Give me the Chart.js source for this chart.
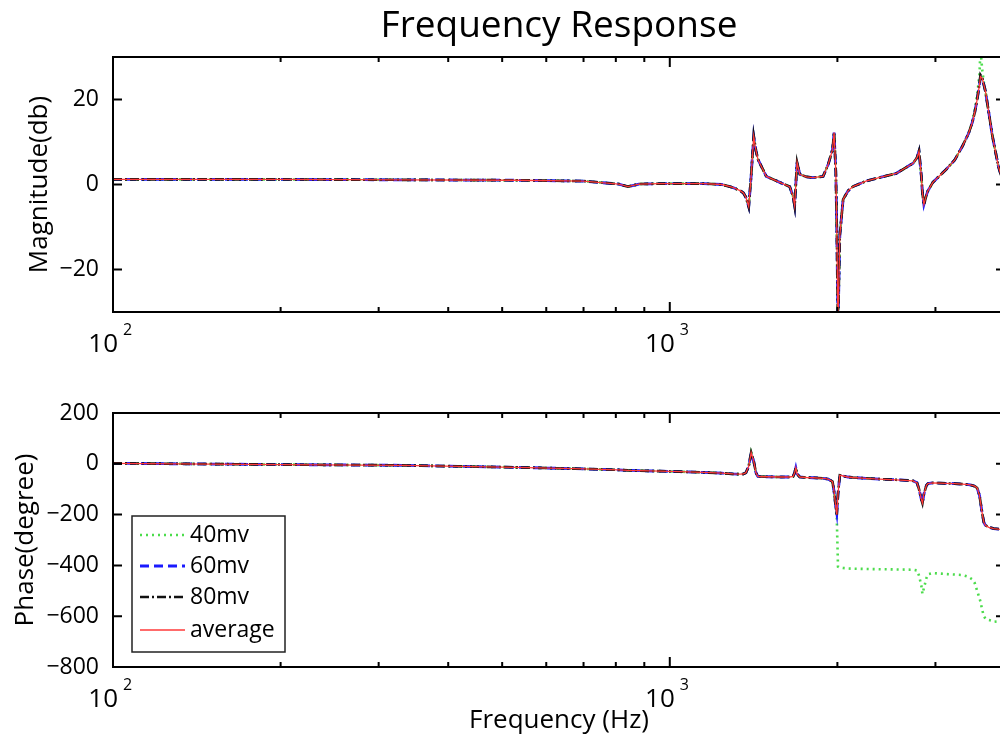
<!DOCTYPE html>
<html>
<head>
<meta charset="utf-8">
<script src="https://cdn.jsdelivr.net/npm/chart.js@4"></script>
<style>
    html, body { margin: 0; padding: 0; background: #fff; overflow: hidden; width: 1000px; height: 742px; }
    #mag-wrap { position: absolute; left: 0; top: 0; width: 1007px; height: 362px; }
    #fase-wrap { position: absolute; left: 0; top: 362px; width: 1007px; height: 380px; }
</style>
</head>
<body>
<div id="mag-wrap"><canvas id="magnitud"></canvas></div>
<div id="fase-wrap"><canvas id="fase"></canvas></div>
<script>
// frecuencias (Hz)
const frecuencias = [100, 150, 200, 330, 530, 700, 810, 841, 880, 960,
    1042, 1150, 1240, 1298, 1340, 1356, 1370, 1386, 1400, 1415,
    1428, 1440, 1491, 1576, 1642, 1665, 1676, 1684, 1693, 1712,
    1760, 1808, 1885, 1925, 1960, 1973, 1987, 1995, 2005, 2020,
    2048, 2090, 2133, 2250, 2377, 2550, 2735, 2780, 2803, 2830,
    2843, 2860, 2890, 2908, 2968, 3050, 3134, 3250, 3354, 3440,
    3494, 3530, 3565, 3600, 3614, 3640, 3665, 3688, 3740, 3790,
    3815, 3893, 3960];

// magnitud (db)
const mag40 = [1.2, 1.2, 1.2, 1.1, 1.0, 0.8, 0.1, -0.5, 0.1, 0.2,
    0.2, 0.2, 0.0, -0.7, -1.5, -2.0, -3.0, -5.2, 2.0, 11.0,
    8.0, 5.9, 1.9, 0.5, -0.5, -2.8, -5.0, 0.0, 5.0, 2.4,
    1.8, 1.6, 1.9, 4.7, 8.2, 12.0, 3.0, -10, -34, -12,
    -3.5, -1.5, -0.5, 0.8, 1.6, 2.6, 5.0, 6.3, 7.6, 2.0,
    -2.0, -4.7, -2.5, -1.5, 0.5, 2.0, 3.5, 5.8, 9.0, 12.0,
    14.6, 17.5, 21.0, 26.0, 32.0, 27.0, 24.0, 22.0, 17.0, 12.0,
    10.0, 4.2, 1.0];
const mag60 = [1.2, 1.2, 1.2, 1.1, 1.0, 0.8, 0.1, -0.5, 0.1, 0.2,
    0.2, 0.2, 0.0, -0.7, -1.5, -2.0, -3.0, -5.2, 2.0, 11.3,
    8.0, 5.9, 1.9, 0.5, -0.5, -2.8, -5.0, 0.0, 5.2, 2.4,
    1.8, 1.6, 1.9, 4.7, 8.2, 12.2, 3.0, -10, -34, -12,
    -3.5, -1.5, -0.5, 0.8, 1.6, 2.6, 5.0, 6.3, 7.8, 2.0,
    -2.0, -4.7, -2.5, -1.5, 0.5, 2.0, 3.5, 5.8, 9.0, 12.0,
    14.6, 17.0, 20.0, 23.5, 25.2, 25.0, 23.5, 22.0, 17.0, 12.0,
    10.0, 4.2, 1.0];
const mag80 = [1.2, 1.2, 1.2, 1.1, 1.0, 0.8, 0.1, -0.5, 0.1, 0.2,
    0.2, 0.2, 0.0, -0.7, -1.5, -2.0, -3.0, -5.3, 2.0, 11.4,
    8.0, 5.9, 1.9, 0.5, -0.5, -2.8, -5.1, 0.0, 5.2, 2.4,
    1.8, 1.6, 1.9, 4.7, 8.2, 12.3, 3.0, -10, -34, -12,
    -3.5, -1.5, -0.5, 0.8, 1.6, 2.6, 5.0, 6.3, 7.9, 2.0,
    -2.0, -4.8, -2.5, -1.5, 0.5, 2.0, 3.5, 5.8, 9.0, 12.0,
    14.6, 17.0, 20.0, 23.8, 25.8, 25.2, 23.5, 22.0, 17.0, 12.0,
    10.0, 4.2, 1.0];
const magProm = [1.2, 1.2, 1.2, 1.1, 1.0, 0.8, 0.1, -0.5, 0.1, 0.2,
    0.2, 0.2, 0.0, -0.7, -1.5, -2.0, -3.0, -5.2, 2.0, 11.3,
    8.0, 5.9, 1.9, 0.5, -0.5, -2.8, -5.0, 0.0, 5.2, 2.4,
    1.8, 1.6, 1.9, 4.7, 8.2, 12.2, 3.0, -10, -34, -12,
    -3.5, -1.5, -0.5, 0.8, 1.6, 2.6, 5.0, 6.3, 7.8, 2.0,
    -2.0, -4.7, -2.5, -1.5, 0.5, 2.0, 3.5, 5.8, 9.0, 12.0,
    14.6, 17.0, 20.0, 23.5, 25.4, 25.0, 23.5, 22.0, 17.0, 12.0,
    10.0, 4.2, 1.0];

// fase (grados)
const fase40 = [2, -1, -3, -6, -14, -20, -24, -26, -27, -29,
    -31, -34, -37, -40, -41, -40, -35, -10, 44, 10,
    -35, -50, -51, -52, -52, -50, -35, -15, -40, -52,
    -54, -55, -57, -60, -70, -110, -170, -215, -405, -408,
    -410, -412, -413, -414, -415, -416, -417, -420, -440, -480,
    -512, -490, -450, -435, -430, -432, -434, -436, -438, -445,
    -455, -470, -500, -530, -542, -575, -600, -609, -615, -618,
    -622, -620, -620];
const fase60 = [2, -1, -3, -6, -14, -20, -24, -26, -27, -29,
    -31, -34, -37, -40, -41, -40, -35, -10, 42, 10,
    -35, -50, -51, -52, -52, -50, -35, -16, -40, -52,
    -54, -55, -57, -60, -70, -110, -170, -195, -120, -45,
    -48, -52, -54, -57, -60, -63, -67, -75, -100, -140,
    -155, -120, -85, -78, -75, -76, -77, -78, -80, -82,
    -85, -88, -95, -125, -150, -195, -230, -242, -250, -253,
    -255, -257, -258];
const fase80 = [2, -1, -3, -6, -14, -20, -24, -26, -27, -29,
    -31, -34, -37, -40, -41, -40, -35, -10, 44, 10,
    -35, -50, -51, -52, -52, -50, -35, -15, -40, -52,
    -54, -55, -57, -60, -70, -110, -170, -200, -120, -45,
    -48, -52, -54, -57, -60, -63, -67, -75, -100, -140,
    -155, -120, -85, -78, -75, -76, -77, -78, -80, -82,
    -85, -88, -95, -125, -150, -195, -230, -242, -250, -253,
    -255, -257, -258];
const faseProm = [2, -1, -3, -6, -14, -20, -24, -26, -27, -29,
    -31, -34, -37, -40, -41, -40, -35, -10, 44, 10,
    -35, -50, -51, -52, -52, -50, -35, -15, -40, -52,
    -54, -55, -57, -60, -70, -110, -170, -200, -120, -45,
    -48, -52, -54, -57, -60, -63, -67, -75, -100, -140,
    -155, -120, -85, -78, -75, -76, -77, -78, -80, -82,
    -85, -88, -95, -125, -150, -195, -230, -242, -250, -253,
    -255, -257, -258];

// ticks de los ejes
const ticksMag = [-20, 0, 20];
const ticksFase = [-800, -600, -400, -200, 0, 200];
const ticksFrecMayor = [100, 1000];
const ticksFrecMenor = [200, 300, 400, 500, 600, 700, 800, 900, 2000, 3000];

const etiquetas = ['40mv', '60mv', '80mv', 'average'];
const colores = ['#4cdc4c', '#1a1aff', '#111111', '#ff3a3a'];
const guiones = [[2, 4], [9, 5], [9, 3, 2, 3], []];
const anchos = [2.6, 2.8, 2.6, 1.3];

Chart.defaults.font.family = "'Open Sans', sans-serif";
Chart.defaults.color = '#000';

function series(valores) {
    return valores.map((ys, i) => ({
        label: etiquetas[i],
        data: frecuencias.map((f, j) => ({ x: f, y: ys[j] })),
        borderColor: colores[i],
        borderDash: guiones[i],
        borderWidth: anchos[i],
        pointRadius: 0,
        tension: 0,
        fill: false,
        order: 3 - i // el promedio queda encima
    }));
}

function menos(v) {
    return v < 0 ? '\u2212' + Math.abs(v) : String(v);
}

// caja de ejes con ticks hacia adentro, estilo matlab
const marcoEjes = {
    id: 'marcoEjes',
    afterDatasetsDraw(chart, args, opts) {
        const { ctx, chartArea: a, scales } = chart;
        ctx.save();
        ctx.strokeStyle = '#000';
        ctx.lineWidth = 2;
        ctx.strokeRect(a.left, a.top, a.right - a.left, a.bottom - a.top);
        ctx.beginPath();
        opts.ticksY.forEach(v => {
            const y = scales.y.getPixelForValue(v);
            ctx.moveTo(a.left, y); ctx.lineTo(a.left + 9, y);
            ctx.moveTo(a.right, y); ctx.lineTo(a.right - 9, y);
        });
        ticksFrecMayor.forEach(v => {
            const x = scales.x.getPixelForValue(v);
            ctx.moveTo(x, a.bottom); ctx.lineTo(x, a.bottom - 10);
            ctx.moveTo(x, a.top); ctx.lineTo(x, a.top + 10);
        });
        ticksFrecMenor.forEach(v => {
            const x = scales.x.getPixelForValue(v);
            ctx.moveTo(x, a.bottom); ctx.lineTo(x, a.bottom - 5);
            ctx.moveTo(x, a.top); ctx.lineTo(x, a.top + 5);
        });
        ctx.stroke();

        // etiquetas 10^n
        ctx.fillStyle = '#000';
        ticksFrecMayor.forEach(v => {
            const x = scales.x.getPixelForValue(v);
            ctx.font = "26px 'Open Sans'";
            ctx.textAlign = 'right';
            ctx.textBaseline = 'alphabetic';
            ctx.fillText('10', x + 5, a.bottom + 40);
            ctx.font = "16px 'Open Sans'";
            ctx.textAlign = 'left';
            ctx.fillText(String(Math.round(Math.log10(v))), x + 10, a.bottom + 23);
        });
        ctx.restore();
    }
};

// leyenda dentro del grafico de fase
const leyenda = {
    id: 'leyenda',
    afterDraw(chart) {
        const { ctx } = chart;
        const x0 = 132, y0 = 154, w = 153, h = 136;
        ctx.save();
        ctx.fillStyle = '#fff';
        ctx.fillRect(x0, y0, w, h);
        ctx.strokeStyle = '#222';
        ctx.lineWidth = 1.5;
        ctx.strokeRect(x0, y0, w, h);
        const filas = [173, 204, 235, 268];
        chart.data.datasets.forEach((ds, i) => {
            ctx.beginPath();
            ctx.strokeStyle = ds.borderColor;
            ctx.lineWidth = ds.borderWidth;
            ctx.setLineDash(ds.borderDash);
            ctx.moveTo(140, filas[i]);
            ctx.lineTo(185, filas[i]);
            ctx.stroke();
            ctx.setLineDash([]);
            ctx.fillStyle = '#000';
            ctx.font = "23px 'Open Sans'";
            ctx.textAlign = 'left';
            ctx.textBaseline = 'middle';
            ctx.fillText(ds.label, 190, filas[i]);
        });
        ctx.restore();
    }
};

function ejeX(alto, titulo) {
    return {
        type: 'logarithmic',
        min: 100,
        max: 4000,
        grid: { display: false },
        border: { display: false },
        ticks: { display: false },
        title: titulo,
        afterFit: scale => { scale.height = alto; }
    };
}

function ejeY(min, max, ticks, titulo, pad) {
    return {
        min: min,
        max: max,
        grid: { display: false },
        border: { display: false },
        afterBuildTicks: scale => { scale.ticks = ticks.map(v => ({ value: v })); },
        ticks: { font: { size: 23 }, padding: 6, callback: v => menos(v) },
        title: { display: true, text: titulo, font: { size: 26 }, padding: { top: pad } },
        afterFit: scale => { scale.width = 113; }
    };
}

const graficaMag = new Chart(document.getElementById('magnitud'), {
    type: 'line',
    data: { datasets: series([mag40, mag60, mag80, magProm]) },
    options: {
        responsive: true,
        maintainAspectRatio: false,
        animation: false,
        layout: { padding: { left: 0, right: 2, top: 0, bottom: 0 } },
        scales: {
            x: ejeX(50, { display: false }),
            y: ejeY(-30, 30, ticksMag, 'Magnitude(db)', 24)
        },
        plugins: {
            legend: { display: false },
            tooltip: { enabled: false },
            title: {
                display: true,
                text: 'Frequency Response',
                fullSize: false,
                font: { size: 37, weight: 'normal' },
                padding: { top: 4, bottom: 8.6 }
            },
            marcoEjes: { ticksY: ticksMag }
        }
    },
    plugins: [marcoEjes]
});

const graficaFase = new Chart(document.getElementById('fase'), {
    type: 'line',
    data: { datasets: series([fase40, fase60, fase80, faseProm]) },
    options: {
        responsive: true,
        maintainAspectRatio: false,
        animation: false,
        layout: { padding: { left: 0, right: 2, top: 51, bottom: 0 } },
        scales: {
            x: ejeX(75, { display: true, text: 'Frequency (Hz)', font: { size: 26 }, padding: { top: 0, bottom: 6 } }),
            y: ejeY(-800, 200, ticksFase, 'Phase(degree)', 10)
        },
        plugins: {
            legend: { display: false },
            tooltip: { enabled: false },
            marcoEjes: { ticksY: ticksFase }
        }
    },
    plugins: [marcoEjes, leyenda]
});
</script>
</body>
</html>
